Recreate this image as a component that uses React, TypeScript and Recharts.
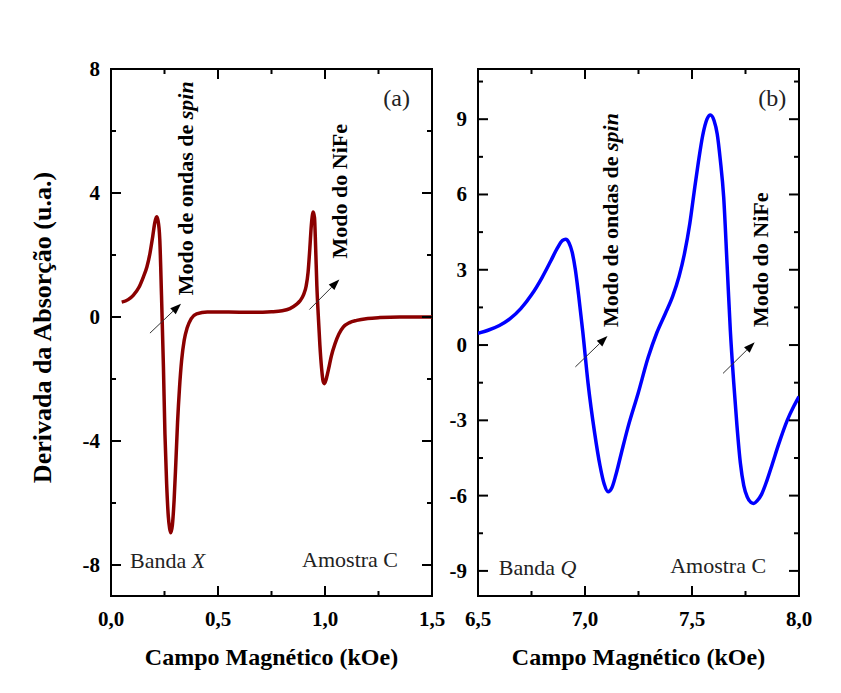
import React from 'react';
import { LineChart, Line, XAxis, YAxis, ReferenceLine, ReferenceDot, ReferenceArea } from 'recharts';

const FONT = "'Times New Roman', 'Liberation Serif', serif";

// (a) Banda X - campo em kOe e derivada da absorção
const fieldX = [0.05, 0.08, 0.104, 0.13, 0.151, 0.168, 0.182, 0.195, 0.205, 0.213, 0.22, 0.228, 0.236, 0.245, 0.252, 0.26, 0.268, 0.274, 0.279, 0.287, 0.295, 0.303, 0.311, 0.32, 0.33, 0.342, 0.356, 0.375, 0.4, 0.45, 0.55, 0.65, 0.75, 0.8, 0.836, 0.865, 0.883, 0.9, 0.912, 0.921, 0.929, 0.936, 0.945, 0.951, 0.956, 0.962, 0.969, 0.976, 0.984, 0.991, 0.997, 1.005, 1.016, 1.03, 1.047, 1.065, 1.086, 1.115, 1.148, 1.2, 1.257, 1.35, 1.5];
const signalX = [0.48, 0.56, 0.7, 0.95, 1.29, 1.62, 2.05, 2.6, 3.05, 3.23, 3.1, 2.5, 0.7, -1.61, -3.76, -5.38, -6.45, -6.82, -6.96, -6.7, -5.9, -4.7, -3.4, -2.3, -1.4, -0.75, -0.35, -0.05, 0.1, 0.16, 0.16, 0.15, 0.17, 0.2, 0.27, 0.4, 0.52, 0.72, 1.0, 1.45, 2.2, 2.95, 3.39, 3.2, 2.3, 1.0, 0, -0.9, -1.65, -2.07, -2.15, -2.02, -1.7, -1.25, -0.86, -0.55, -0.32, -0.18, -0.11, -0.05, -0.02, 0, 0];

// (b) Banda Q
const fieldQ = [6.5, 6.55, 6.6, 6.65, 6.7, 6.75, 6.8, 6.84, 6.87, 6.895, 6.91, 6.925, 6.94, 6.955, 6.97, 6.99, 7.014, 7.045, 7.07, 7.09, 7.108, 7.125, 7.145, 7.17, 7.2, 7.248, 7.295, 7.336, 7.375, 7.41, 7.44, 7.465, 7.49, 7.51, 7.53, 7.55, 7.57, 7.586, 7.603, 7.618, 7.632, 7.648, 7.664, 7.679, 7.695, 7.71, 7.726, 7.742, 7.758, 7.775, 7.789, 7.805, 7.825, 7.85, 7.875, 7.905, 7.945, 7.975, 8.0];
const signalQ = [0.47, 0.6, 0.78, 1.05, 1.45, 2.0, 2.7, 3.35, 3.85, 4.17, 4.22, 4.08, 3.7, 3.0, 2.0, 0.5, -1.5, -3.5, -4.8, -5.55, -5.85, -5.7, -5.15, -4.3, -3.3, -1.93, -0.5, 0.5, 1.25, 1.95, 2.75, 3.65, 4.85, 6.1, 7.3, 8.35, 9.0, 9.17, 8.95, 8.4, 7.4, 5.9, 3.2, 0.6, -1.5, -3.2, -4.7, -5.6, -6.05, -6.27, -6.31, -6.2, -5.95, -5.4, -4.75, -3.95, -3.0, -2.45, -2.05];

// ticks
const xTicksA = [0, 0.25, 0.5, 0.75, 1, 1.25, 1.5];
const xMajorA = [0, 0.5, 1, 1.5];
const yTicksA = [-8, -6, -4, -2, 0, 2, 4, 6, 8];
const yMajorA = [-8, -4, 0, 4, 8];
const xTicksB = [6.5, 6.75, 7, 7.25, 7.5, 7.75, 8];
const xMajorB = [6.5, 7, 7.5, 8];
const yTicksB = [-9, -7.5, -6, -4.5, -3, -1.5, 0, 1.5, 3, 4.5, 6, 7.5, 9, 10.5];
const yMajorB = [-9, -6, -3, 0, 3, 6, 9];

// anotações (coordenadas de dados)
const arrowsA = [
  { from: [0.182, -0.52], to: [0.327, 0.43] },
  { from: [0.927, 0.24], to: [1.067, 1.21] },
];
const arrowsB = [
  { from: [6.955, -0.87], to: [7.105, 0.36] },
  { from: [7.645, -1.13], to: [7.793, 0.11] },
];
const vlabelsA = [
  { at: [0.346, 0.7], text: 'Modo de ondas de ', italic: 'spin' },
  { at: [1.07, 1.89], text: 'Modo do NiFe', italic: '' },
];
const vlabelsB = [
  { at: [7.117, 0.72], text: 'Modo de ondas de ', italic: 'spin' },
  { at: [7.82, 0.72], text: 'Modo do NiFe', italic: '' },
];
const hlabelsA = [
  { at: [1.335, 7.05], text: '(a)', italic: '', anchor: 'middle', size: 24 },
  { at: [0.089, -7.85], text: 'Banda ', italic: 'X', anchor: 'start', size: 22 },
  { at: [0.893, -7.82], text: 'Amostra C', italic: '', anchor: 'start', size: 22 },
];
const hlabelsB = [
  { at: [7.875, 9.84], text: '(b)', italic: '', anchor: 'middle', size: 24 },
  { at: [6.597, -8.86], text: 'Banda ', italic: 'Q', anchor: 'start', size: 22 },
  { at: [7.398, -8.78], text: 'Amostra C', italic: '', anchor: 'start', size: 22 },
];

const W = 841;
const H = 693;

const fmtX = (v: number) => v.toFixed(1).replace('.', ',');
const fmtY = (v: number) => String(v);

const isMajor = (majors: number[], v: number) => majors.some((m) => Math.abs(m - v) < 1e-9);

// ticks pointing inward on both opposite sides of the frame
const makeXTick = (majors: number[], plotTop: number) => (props: any) => {
  const { x, y, payload } = props;
  const v = payload.value;
  const major = isMajor(majors, v);
  const len = major ? 10 : 5;
  return (
    <g>
      <line x1={x} y1={y} x2={x} y2={y - len} stroke="#000" strokeWidth={2} />
      <line x1={x} y1={plotTop} x2={x} y2={plotTop + len} stroke="#000" strokeWidth={2} />
      {major && (
        <text x={x} y={y + 23} textAnchor="middle" dominantBaseline="central"
          fontFamily={FONT} fontWeight="bold" fontSize={21} fill="#000">
          {fmtX(v)}
        </text>
      )}
    </g>
  );
};

const makeYTick = (majors: number[], plotRight: number) => (props: any) => {
  const { x, y, payload } = props;
  const v = payload.value;
  const major = isMajor(majors, v);
  const len = major ? 10 : 5;
  return (
    <g>
      <line x1={x} y1={y} x2={x + len} y2={y} stroke="#000" strokeWidth={2} />
      <line x1={plotRight} y1={y} x2={plotRight - len} y2={y} stroke="#000" strokeWidth={2} />
      {major && (
        <text x={x - 11} y={y} textAnchor="end" dominantBaseline="central"
          fontFamily={FONT} fontWeight="bold" fontSize={21} fill="#000">
          {fmtY(v)}
        </text>
      )}
    </g>
  );
};

const arrowShape = (props: any) => {
  const { x1, y1, x2, y2 } = props;
  const ang = Math.atan2(y2 - y1, x2 - x1);
  const hl = 11;
  const hw = 4;
  const bx = x2 - hl * Math.cos(ang);
  const by = y2 - hl * Math.sin(ang);
  const px = -Math.sin(ang) * hw;
  const py = Math.cos(ang) * hw;
  return (
    <g>
      <line x1={x1} y1={y1} x2={bx} y2={by} stroke="#333" strokeWidth={1} />
      <polygon points={`${x2},${y2} ${bx + px},${by + py} ${bx - px},${by - py}`} fill="#000" />
    </g>
  );
};

const vTextShape = (text: string, italic: string) => (props: any) => {
  const { cx, cy } = props;
  return (
    <text x={cx} y={cy} transform={`rotate(-90 ${cx} ${cy})`} textAnchor="start" dominantBaseline="central"
      fontFamily={FONT} fontWeight="bold" fontSize={22} fill="#000">
      {text}
      {italic && <tspan fontStyle="italic">{italic}</tspan>}
    </text>
  );
};

const hTextShape = (text: string, italic: string, anchor: string, size: number) => (props: any) => {
  const { cx, cy } = props;
  return (
    <text x={cx} y={cy} textAnchor={anchor} dominantBaseline="central"
      fontFamily={FONT} fontSize={size} fill="#222">
      {text}
      {italic && <tspan fontStyle="italic">{italic}</tspan>}
    </text>
  );
};

interface PanelProps {
  fields: number[];
  signals: number[];
  color: string;
  xDomain: [number, number];
  yDomain: [number, number];
  xTicks: number[];
  xMajor: number[];
  yTicks: number[];
  yMajor: number[];
  margin: { top: number; right: number; bottom: number; left: number };
  arrows: { from: number[]; to: number[] }[];
  vlabels: { at: number[]; text: string; italic: string }[];
  hlabels: { at: number[]; text: string; italic: string; anchor: string; size: number }[];
  yTitle?: string;
}

const Panel: React.FC<PanelProps> = (p) => {
  const data = p.fields.map((f, i) => ({ campo: f, sinal: p.signals[i] }));
  const plotTop = p.margin.top;
  const plotRight = W - p.margin.right;
  return (
    <div style={{ position: 'absolute', left: 0, top: 0 }}>
      <LineChart width={W} height={H} data={data} margin={p.margin}>
        <XAxis
          dataKey="campo"
          type="number"
          domain={p.xDomain}
          ticks={p.xTicks}
          interval={0}
          allowDataOverflow
          height={1}
          tickSize={0}
          tickMargin={0}
          tickLine={false}
          axisLine={false}
          tick={makeXTick(p.xMajor, plotTop)}
          label={{
            value: 'Campo Magnético (kOe)',
            position: 'bottom',
            offset: 51,
            style: { fontFamily: FONT, fontWeight: 'bold', fontSize: 24, fill: '#000' },
          }}
        />
        <YAxis
          type="number"
          domain={p.yDomain}
          ticks={p.yTicks}
          interval={0}
          allowDataOverflow
          width={1}
          tickSize={0}
          tickMargin={0}
          tickLine={false}
          axisLine={false}
          tick={makeYTick(p.yMajor, plotRight)}
          label={
            p.yTitle
              ? {
                  content: (lp: any) => {
                    const vb = lp.viewBox || { x: 110, y: 69, width: 1, height: 527 };
                    const tx = vb.x + (vb.width || 0) - 69;
                    const ty = vb.y + vb.height / 2 - 5;
                    return (
                      <text x={tx} y={ty} transform={`rotate(-90 ${tx} ${ty})`} textAnchor="middle"
                        dominantBaseline="central" fontFamily={FONT} fontWeight="bold" fontSize={26} fill="#000">
                        {p.yTitle}
                      </text>
                    );
                  },
                }
              : undefined
          }
        />
        <ReferenceArea
          x1={p.xDomain[0]}
          x2={p.xDomain[1]}
          y1={p.yDomain[0]}
          y2={p.yDomain[1]}
          fill="none"
          fillOpacity={0}
          stroke="#000"
          strokeWidth={2}
        />
        <Line
          type="monotone"
          dataKey="sinal"
          stroke={p.color}
          strokeWidth={3.5}
          dot={false}
          activeDot={false}
          isAnimationActive={false}
        />
        {p.arrows.map((a, i) => (
          <ReferenceLine
            key={`arrow-${i}`}
            segment={[
              { x: a.from[0], y: a.from[1] },
              { x: a.to[0], y: a.to[1] },
            ]}
            shape={arrowShape}
          />
        ))}
        {p.vlabels.map((l, i) => (
          <ReferenceDot key={`v-${i}`} x={l.at[0]} y={l.at[1]} r={0} shape={vTextShape(l.text, l.italic)} />
        ))}
        {p.hlabels.map((l, i) => (
          <ReferenceDot
            key={`h-${i}`}
            x={l.at[0]}
            y={l.at[1]}
            r={0}
            shape={hTextShape(l.text, l.italic, l.anchor, l.size)}
          />
        ))}
      </LineChart>
    </div>
  );
};

export default function App() {
  return (
    <div style={{ position: 'absolute', left: 0, top: 0, width: W, height: H, background: '#fff' }}>
      <Panel
        fields={fieldX}
        signals={signalX}
        color="#8B0000"
        xDomain={[0, 1.5]}
        yDomain={[-9, 8]}
        xTicks={xTicksA}
        xMajor={xMajorA}
        yTicks={yTicksA}
        yMajor={yMajorA}
        margin={{ top: 69, right: 409, bottom: 96, left: 110 }}
        arrows={arrowsA}
        vlabels={vlabelsA}
        hlabels={hlabelsA}
        yTitle="Derivada da Absorção (u.a.)"
      />
      <Panel
        fields={fieldQ}
        signals={signalQ}
        color="#0000FF"
        xDomain={[6.5, 8]}
        yDomain={[-10, 11]}
        xTicks={xTicksB}
        xMajor={xMajorB}
        yTicks={yTicksB}
        yMajor={yMajorB}
        margin={{ top: 69, right: 42, bottom: 96, left: 477 }}
        arrows={arrowsB}
        vlabels={vlabelsB}
        hlabels={hlabelsB}
      />
    </div>
  );
}
